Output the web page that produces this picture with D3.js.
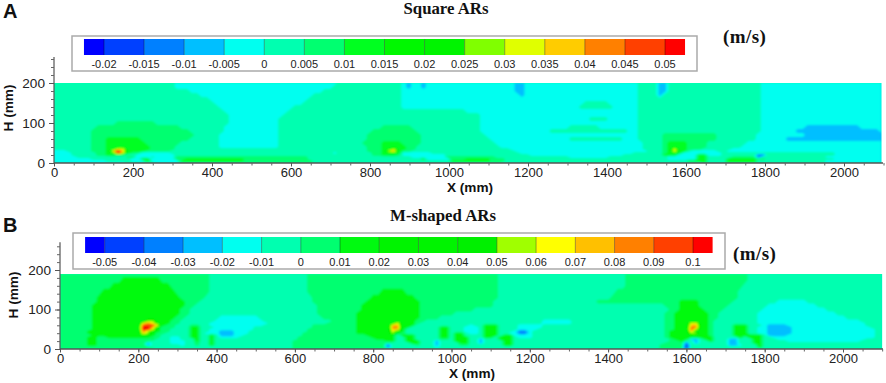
<!DOCTYPE html>
<html>
<head>
<meta charset="utf-8">
<script src="https://cdnjs.cloudflare.com/ajax/libs/d3/7.8.5/d3.min.js"></script>
<style>
    html, body { margin: 0; padding: 0; background: #fff; }
    text { font-family: "Liberation Sans", Arial, sans-serif; fill: #222; }
    .serif { font-family: "Liberation Serif", "Times New Roman", serif; font-weight: bold; fill: #111; }
    .axis-title { font-weight: bold; font-size: 13.6px; fill: #111; }
    .panel-tag { font-weight: bold; font-size: 20px; fill: #111; }
</style>
</head>
<body>
<div id="chart"></div>
<script>
// tick labels
const xTicks = [0, 200, 400, 600, 800, 1000, 1200, 1400, 1600, 1800, 2000];
const xMinor = d3.range(0, 2101, 50);
const hTicks = [0, 100, 200];
const hMinor = d3.range(0, 261, 20);
const legendTicksA = [-0.02, -0.015, -0.01, -0.005, 0, 0.005, 0.01, 0.015, 0.02, 0.025, 0.03, 0.035, 0.04, 0.045, 0.05];
const legendTicksB = [-0.05, -0.04, -0.03, -0.02, -0.01, 0, 0.01, 0.02, 0.03, 0.04, 0.05, 0.06, 0.07, 0.08, 0.09, 0.1];

// band colours, lowest band first
const bandColorsA = ["#0000ff", "#0040ff", "#0080ff", "#00bfff", "#00fff0", "#00ffb0", "#00ff70", "#00ff20", "#00f800", "#00f400", "#80ff00", "#e0ff00", "#ffcc00", "#ff8000", "#ff4000", "#ff0000"];
const bandColorsB = ["#0000ff", "#0040ff", "#0080ff", "#00bfff", "#00fff0", "#00ffb0", "#00ff70", "#00fa10", "#00f400", "#00f400", "#00f000", "#a0ff00", "#ffff00", "#ffc000", "#ff8000", "#ff4000", "#ff0000"];

// field A: band number, then x (mm) where that band stops, read row by row
const heightsA = [200, 190, 180, 170, 160, 150, 140, 130, 120, 110, 100, 90, 80, 70, 60, 50, 40, 35, 30, 25, 20, 15, 10, 5, 0];
const runsA = [
    [5,300, 4,720, 5,885, 4,895, 3,912, 4,925, 3,938, 4,1170, 3,1195, 4,1480, 5,1528, 3,1552, 5,1795, 4,2100],
    [5,300, 4,700, 5,885, 4,895, 3,912, 4,925, 3,938, 4,1170, 3,1195, 4,1480, 5,1528, 3,1552, 5,1795, 4,2100],
    [5,340, 4,680, 5,885, 4,1172, 3,1192, 4,1480, 5,1532, 3,1550, 5,1795, 4,2100],
    [5,370, 4,660, 5,885, 4,1175, 3,1190, 4,1480, 5,1535, 3,1548, 5,1795, 4,2100],
    [5,390, 4,640, 5,885, 4,1480, 5,1795, 4,2100],
    [5,400, 4,625, 5,885, 4,1340, 5,1400, 4,1480, 5,1795, 4,2100],
    [5,415, 4,610, 5,885, 4,1330, 5,1420, 4,1480, 5,1795, 4,2100],
    [5,430, 4,590, 5,1040, 4,1480, 5,1795, 4,2100],
    [5,440, 4,575, 5,1075, 4,1480, 5,1795, 4,2100],
    [5,445, 4,570, 5,1080, 4,1350, 5,1410, 4,1480, 5,1790, 4,2100],
    [5,150, 6,260, 5,440, 4,570, 5,1085, 4,1480, 5,1790, 4,2100],
    [5,110, 6,320, 5,430, 4,570, 5,830, 6,900, 5,1085, 4,1300, 5,1380, 4,1480, 5,1790, 4,1900, 3,2040, 4,2100],
    [5,95, 6,345, 5,425, 4,567, 5,808, 6,918, 5,1085, 4,1260, 5,1450, 4,1480, 5,1790, 4,1880, 3,2090, 4,2100],
    [5,90, 6,355, 5,420, 4,567, 5,795, 6,935, 5,1090, 4,1480, 5,1545, 6,1680, 5,1785, 4,1910, 3,2095],
    [5,90, 6,130, 7,220, 6,345, 5,420, 4,567, 5,790, 6,925, 5,1100, 4,1300, 5,1440, 4,1480, 5,1545, 6,1685, 5,1775, 4,1860, 3,2090],
    [5,90, 6,130, 7,235, 6,320, 5,415, 4,567, 5,785, 6,835, 7,885, 6,925, 5,1115, 4,1490, 5,1545, 6,1560, 7,1600, 6,1660, 5,1760, 4,2100],
    [5,95, 6,125, 7,240, 6,310, 5,420, 4,567, 5,790, 6,825, 7,890, 6,920, 5,1130, 4,1490, 5,1545, 6,1555, 7,1610, 6,1650, 5,1740, 4,2100],
    [5,95, 6,125, 7,150, 11,178, 7,240, 6,300, 5,795, 6,825, 7,850, 10,872, 7,890, 6,915, 5,1150, 4,1490, 5,1545, 6,1552, 7,1565, 11,1585, 7,1610, 6,1640, 5,1720, 4,2100],
    [4,30, 5,95, 6,125, 7,148, 12,155, 15,172, 12,182, 7,225, 6,290, 5,795, 6,825, 7,848, 11,856, 13,866, 11,874, 7,885, 6,910, 5,1170, 4,1500, 5,1540, 6,1552, 7,1568, 12,1583, 7,1600, 5,1620, 4,1680, 5,1700, 4,2100],
    [4,40, 5,100, 6,130, 7,150, 12,158, 15,170, 11,178, 7,195, 6,215, 4,290, 5,700, 4,720, 5,800, 6,830, 7,850, 11,862, 7,875, 6,885, 4,960, 5,1185, 4,1470, 5,1545, 6,1552, 7,1590, 4,1690, 5,1975, 4,2100],
    [4,45, 5,100, 6,130, 7,155, 6,185, 5,205, 4,300, 5,800, 6,835, 7,865, 6,880, 4,990, 5,1205, 4,1440, 5,1545, 7,1585, 4,1635, 7,1655, 4,1690, 5,1780, 2,1800, 5,1975, 4,2100],
    [4,60, 5,180, 6,200, 4,240, 5,260, 4,310, 6,640, 5,900, 4,990, 6,1120, 5,1300, 4,1400, 5,1560, 4,1635, 7,1660, 5,1720, 6,1780, 2,1795, 5,1960, 4,2100],
    [4,90, 5,190, 4,222, 7,245, 4,310, 6,325, 7,480, 6,640, 5,925, 7,945, 4,1000, 6,1040, 7,1105, 6,1140, 5,1560, 4,1635, 7,1660, 5,1712, 7,1780, 6,1800, 5,1980, 4,2100],
    [4,130, 5,190, 4,225, 7,245, 4,320, 7,480, 6,650, 5,1000, 7,1105, 6,1140, 5,1600, 7,1660, 5,1712, 7,1780, 5,1960, 4,2100],
    [4,180, 5,250, 4,320, 6,650, 5,1000, 6,1130, 5,1640, 7,1660, 5,1712, 7,1780, 5,1950, 4,2100]
];

// field B: same layout
const heightsB = [190, 175, 160, 145, 130, 120, 110, 100, 90, 80, 70, 65, 60, 55, 50, 45, 40, 35, 30, 25, 20, 15, 10, 5, 0];
const runsB = [
    [6,385, 5,625, 6,1115, 5,1447, 6,1758, 5,2100],
    [6,160, 7,250, 6,385, 5,630, 6,1115, 5,1445, 6,1750, 5,2100],
    [6,125, 7,275, 6,385, 5,632, 6,1115, 5,1440, 6,1745, 5,2100],
    [6,105, 7,295, 6,380, 5,635, 6,820, 7,880, 6,1115, 5,1420, 6,1735, 5,2100],
    [6,95, 7,310, 6,370, 5,640, 6,790, 7,900, 6,1115, 5,1400, 6,1725, 5,2100],
    [6,90, 7,315, 6,360, 5,645, 6,780, 7,915, 6,1110, 5,1370, 6,1583, 7,1626, 6,1715, 5,1830, 4,1900, 5,2100],
    [6,85, 7,315, 6,345, 5,650, 6,770, 7,920, 6,1100, 5,1540, 6,1575, 7,1635, 6,1700, 5,1800, 4,1925, 5,2100],
    [6,85, 7,310, 6,335, 5,655, 6,765, 7,920, 6,1055, 5,1560, 6,1575, 7,1640, 6,1690, 5,1795, 4,1950, 5,2100],
    [6,80, 7,300, 6,325, 5,660, 6,762, 7,920, 6,1000, 5,1545, 6,1572, 7,1650, 6,1680, 5,1785, 4,1980, 5,2100],
    [6,80, 7,295, 6,320, 5,405, 4,510, 5,665, 6,760, 7,915, 6,970, 5,1545, 6,1570, 7,1655, 6,1675, 5,1780, 4,2010, 5,2100],
    [6,80, 7,218, 11,248, 7,285, 6,310, 5,390, 4,520, 5,690, 6,755, 7,910, 6,935, 5,1225, 4,1300, 5,1540, 6,1568, 7,1658, 6,1673, 5,1777, 4,2040, 5,2100],
    [6,80, 7,208, 12,218, 14,235, 12,248, 7,280, 6,305, 5,380, 4,525, 5,680, 6,755, 7,852, 12,868, 7,908, 6,920, 5,1225, 4,1305, 5,1540, 6,1566, 7,1610, 12,1628, 7,1658, 6,1672, 5,1775, 4,2050, 5,2100],
    [6,80, 7,205, 12,212, 15,238, 12,250, 7,268, 6,295, 5,335, 6,360, 5,380, 4,520, 5,640, 6,755, 7,848, 13,870, 7,900, 6,910, 5,1040, 4,1060, 5,1080, 7,1118, 5,1170, 4,1225, 5,1540, 6,1565, 7,1608, 13,1632, 7,1660, 6,1672, 5,1720, 7,1752, 5,1790, 4,1810, 3,1860, 4,2060, 5,2100],
    [6,78, 7,203, 12,210, 16,235, 13,244, 7,262, 6,290, 5,335, 7,360, 5,395, 4,495, 5,640, 6,755, 7,845, 14,872, 7,890, 6,895, 5,965, 7,998, 5,1036, 4,1068, 5,1080, 7,1122, 5,1170, 4,1230, 5,1540, 6,1565, 7,1605, 14,1632, 7,1655, 6,1670, 5,1720, 7,1752, 5,1787, 4,1805, 3,1865, 4,2070, 5,2100],
    [6,75, 7,203, 12,208, 16,230, 12,240, 7,258, 6,285, 5,335, 7,360, 5,378, 4,490, 5,630, 6,760, 7,841, 13,868, 7,880, 6,885, 5,965, 7,998, 5,1036, 4,1068, 5,1080, 7,1122, 5,1165, 4,1215, 5,1540, 6,1565, 7,1603, 15,1624, 11,1636, 7,1650, 6,1668, 5,1720, 7,1752, 5,1785, 4,1805, 3,1865, 4,2080, 5,2100],
    [6,72, 7,204, 11,207, 14,224, 11,232, 7,250, 6,275, 5,335, 7,360, 5,376, 4,408, 3,442, 4,480, 5,625, 6,758, 7,843, 12,862, 7,875, 6,882, 5,965, 7,998, 5,1036, 4,1068, 5,1080, 7,1122, 5,1150, 4,1170, 2,1195, 4,1210, 5,1540, 6,1562, 7,1600, 13,1617, 7,1650, 6,1665, 5,1720, 7,1752, 5,1785, 4,1805, 3,1865, 4,2085, 5,2100],
    [6,72, 7,204, 11,207, 13,220, 11,228, 7,245, 6,268, 5,335, 7,360, 5,374, 4,408, 3,442, 4,475, 5,620, 6,757, 7,846, 11,860, 7,870, 6,880, 5,965, 7,998, 5,1002, 7,1032, 5,1040, 4,1068, 5,1080, 7,1122, 5,1140, 4,1170, 2,1195, 4,1205, 5,1540, 6,1560, 7,1610, 11,1628, 7,1650, 6,1665, 5,1720, 7,1752, 5,1785, 4,1805, 3,1865, 4,2085, 5,2100],
    [6,75, 7,205, 11,212, 7,240, 6,260, 5,335, 7,360, 5,376, 7,398, 5,400, 4,408, 3,440, 4,465, 5,615, 6,775, 7,855, 5,872, 7,902, 5,965, 7,998, 5,1002, 7,1034, 5,1085, 7,1120, 5,1125, 7,1152, 5,1160, 4,1205, 5,1540, 6,1555, 7,1662, 6,1668, 5,1722, 7,1750, 5,1762, 7,1792, 5,1800, 4,1810, 3,1860, 4,2085, 5,2100],
    [6,70, 7,95, 6,115, 7,235, 6,255, 5,285, 4,310, 5,336, 7,360, 5,376, 7,398, 5,410, 4,460, 5,610, 6,790, 7,850, 5,876, 7,908, 5,965, 7,998, 5,1005, 7,1038, 5,1085, 7,1100, 5,1122, 7,1155, 5,1170, 4,1200, 5,1545, 6,1560, 7,1665, 5,1735, 7,1745, 5,1762, 7,1796, 5,1820, 4,2080, 5,2100],
    [6,70, 7,95, 6,225, 7,240, 5,285, 4,310, 5,338, 7,358, 5,376, 7,398, 5,600, 6,810, 7,850, 5,880, 7,912, 5,968, 6,990, 5,1006, 7,1042, 5,1070, 3,1085, 5,1122, 7,1155, 5,1550, 6,1570, 7,1600, 5,1612, 3,1630, 5,1648, 7,1674, 5,1710, 3,1728, 5,1764, 7,1798, 5,1830, 4,2060, 5,2100],
    [6,70, 7,95, 6,225, 5,285, 4,320, 5,340, 7,356, 5,378, 7,396, 5,598, 6,825, 7,850, 5,885, 7,917, 5,950, 3,965, 5,1010, 7,1045, 5,1070, 3,1085, 5,1128, 7,1156, 5,1555, 6,1578, 7,1590, 5,1615, 3,1630, 5,1650, 7,1672, 5,1710, 3,1728, 5,1766, 7,1798, 5,1850, 4,2040, 5,2100],
    [6,70, 7,95, 6,200, 1,212, 6,222, 3,232, 5,285, 4,320, 5,342, 6,356, 5,380, 7,396, 5,596, 6,830, 5,892, 7,920, 5,950, 3,965, 5,1015, 7,1048, 5,1072, 3,1085, 5,1132, 7,1156, 5,1540, 6,1590, 2,1602, 5,1615, 3,1630, 5,1710, 3,1728, 5,1740, 4,1748, 5,1770, 7,1798, 5,2100],
    [6,72, 7,92, 6,200, 0,212, 6,222, 3,232, 5,300, 4,320, 5,343, 6,355, 5,380, 7,395, 5,596, 6,830, 2,845, 5,900, 6,920, 5,950, 3,965, 5,1020, 6,1045, 5,1075, 3,1085, 5,1135, 7,1152, 5,1535, 6,1590, 1,1602, 5,1710, 3,1728, 5,1735, 4,1748, 5,1775, 7,1798, 5,2100],
    [6,200, 0,212, 6,225, 5,596, 6,835, 2,848, 5,950, 4,965, 5,1535, 6,1590, 0,1602, 6,1610, 5,1780, 7,1795, 5,2100],
    [6,200, 1,212, 6,240, 5,596, 6,838, 3,848, 5,1535, 6,1590, 1,1602, 6,1620, 5,2100]
];

const width = 886, height = 383;
const GRID_STEP = 12.5;

const svg = d3.select("#chart").append("svg")
    .attr("width", width)
    .attr("height", height)
    .style("display", "block");

// the picture is soft, so the field gets a little blur too
svg.append("defs").append("filter")
    .attr("id", "soft")
    .append("feGaussianBlur")
    .attr("stdDeviation", 0.9);

// runs -> flat grid for d3.contours
function expandRuns(runs) {
    const cols = d3.range(0, 2100 + GRID_STEP, GRID_STEP);
    const values = [];
    runs.forEach(row => {
        cols.forEach(x => {
            let i = 0;
            while (i < row.length - 2 && x > row[i + 1]) i += 2;
            values.push(row[i]);
        });
    });
    return { values, n: cols.length, m: runs.length };
}

function drawPanel(p) {
    const x = d3.scaleLinear().domain([0, 2000]).range(p.xRange);
    const y = d3.scaleLinear().domain([0, 200]).range(p.yRange);

    // contour field
    const grid = expandRuns(p.runs);
    const gridX = d3.scaleLinear().domain([0.5, grid.n - 0.5]).range([0, p.xEnd]).clamp(true);
    const gridY = d3.scaleLinear().domain(p.heights.map((h, i) => i + 0.5)).range(p.heights).clamp(true);
    const path = d3.geoPath(d3.geoTransform({
        point(cx, cy) { this.stream.point(x(gridX(cx)), y(gridY(cy))); }
    }));
    const bands = d3.contours()
        .size([grid.n, grid.m])
        .smooth(true)
        .thresholds(d3.range(0.5, p.colors.length - 1))(grid.values);

    const clipId = "clip" + p.tag;
    svg.select("defs").append("clipPath").attr("id", clipId).append("rect")
        .attr("x", x(0))
        .attr("y", y(p.heights[0]))
        .attr("width", x(p.xEnd) - x(0))
        .attr("height", y(0) - y(p.heights[0]));

    const field = svg.append("g").attr("clip-path", `url(#${clipId})`).append("g").attr("filter", "url(#soft)");
    field.append("rect")
        .attr("x", x(0) - 3).attr("y", y(p.heights[0]) - 3)
        .attr("width", x(p.xEnd) - x(0) + 6).attr("height", y(0) - y(p.heights[0]) + 6)
        .attr("fill", p.colors[5]);
    field.selectAll("path")
        .data(bands)
        .enter().append("path")
        .attr("d", path)
        .attr("fill", (d, i) => p.colors[i + 1]);

    // x axis
    const xAxisG = svg.append("g").attr("transform", `translate(0,${y(0)})`);
    xAxisG.call(d3.axisBottom(x).tickValues(xMinor).tickSize(2.5).tickFormat(""));
    xAxisG.call(g => g.selectAll(".tick line").attr("stroke", "#666"));
    xAxisG.select(".domain").attr("d", `M${x(0)},0H${p.xAxisEnd}`).attr("stroke", "#555").attr("stroke-width", 1.4);
    const xLabels = svg.append("g").attr("transform", `translate(0,${y(0)})`);
    xLabels.call(d3.axisBottom(x).tickValues(xTicks).tickSize(3.5).tickPadding(1).tickFormat(d3.format("d")));
    xLabels.select(".domain").remove();
    xLabels.selectAll("line").attr("stroke", "#555");
    xLabels.selectAll("text").attr("font-size", 13).style("font-family", "Liberation Sans").attr("fill", "#222");

    // H axis
    const hAxisG = svg.append("g").attr("transform", `translate(${x(0)},0)`);
    hAxisG.call(d3.axisLeft(y).tickValues(hMinor).tickSize(3).tickFormat(""));
    hAxisG.select(".domain").attr("d", `M0,${y(p.hAxisTop)}V${y(0)}`).attr("stroke", "#555").attr("stroke-width", 1.2);
    hAxisG.selectAll("line").attr("stroke", "#666");
    const hLabels = svg.append("g").attr("transform", `translate(${x(0)},0)`);
    hLabels.call(d3.axisLeft(y).tickValues(hTicks).tickSize(5).tickPadding(4).tickFormat(d3.format("d")));
    hLabels.select(".domain").remove();
    hLabels.selectAll("line").attr("stroke", "#555");
    hLabels.selectAll("text").attr("font-size", 13.6).style("font-family", "Liberation Sans").attr("fill", "#222");

    // axis titles
    svg.append("text").attr("class", "axis-title")
        .attr("text-anchor", "middle")
        .attr("x", p.xTitle[0]).attr("y", p.xTitle[1])
        .text("X (mm)");
    svg.append("text").attr("class", "axis-title")
        .attr("text-anchor", "middle")
        .attr("transform", `translate(${p.hTitle[0]},${p.hTitle[1]}) rotate(-90)`)
        .text("H (mm)");

    // colour legend
    const lg = p.legend;
    svg.append("rect")
        .attr("x", lg.box[0]).attr("y", lg.box[1])
        .attr("width", lg.box[2] - lg.box[0]).attr("height", lg.box[3] - lg.box[1])
        .attr("fill", "#fff").attr("stroke", "#aaa").attr("stroke-width", 1.5);
    const t = p.ticks;
    const step = t[1] - t[0];
    const lx = d3.scaleLinear().domain([t[0], t[t.length - 1]]).range(lg.range);
    const edges = [t[0] - step / 2, ...t, t[t.length - 1] + step / 2];
    svg.append("g").selectAll("rect")
        .data(p.colors)
        .enter().append("rect")
        .attr("x", (d, i) => lx(edges[i]))
        .attr("y", lg.y)
        .attr("width", (d, i) => lx(edges[i + 1]) - lx(edges[i]))
        .attr("height", 16)
        .attr("fill", d => d);
    svg.append("g").selectAll("line")
        .data(t)
        .enter().append("line")
        .attr("x1", d => lx(d)).attr("x2", d => lx(d))
        .attr("y1", lg.y).attr("y2", lg.y + 16)
        .attr("stroke", "#000").attr("stroke-opacity", 0.35);
    svg.append("g").selectAll("text")
        .data(t)
        .enter().append("text")
        .attr("x", d => lx(d))
        .attr("y", lg.y + 29)
        .attr("text-anchor", "middle")
        .attr("font-size", 11)
        .text(d => String(d));

    // titles
    svg.append("text").attr("class", "serif")
        .attr("text-anchor", "middle")
        .attr("x", p.title[0]).attr("y", p.title[1])
        .attr("font-size", 16.8)
        .text(p.titleText);
    svg.append("text").attr("class", "serif")
        .attr("x", p.unit[0]).attr("y", p.unit[1])
        .attr("font-size", 19)
        .attr("letter-spacing", 0.4)
        .text("(m/s)");
    svg.append("text").attr("class", "panel-tag")
        .attr("x", 3).attr("y", p.tagY)
        .text(p.tag);
}

drawPanel({
    tag: "A", tagY: 18,
    titleText: "Square ARs", title: [446, 14], unit: [723, 43],
    xRange: [54, 844], yRange: [163, 83], xEnd: 2095, xAxisEnd: 883, hAxisTop: 265,
    xTitle: [470, 192], hTitle: [13, 108],
    heights: heightsA, runs: runsA, colors: bandColorsA, ticks: legendTicksA,
    legend: { box: [72, 36, 697, 71], y: 39, range: [104, 665] }
});

drawPanel({
    tag: "B", tagY: 232,
    titleText: "M-shaped ARs", title: [443, 221], unit: [733, 260],
    xRange: [60, 843], yRange: [349, 270], xEnd: 2100, xAxisEnd: 883, hAxisTop: 270,
    xTitle: [472, 378], hTitle: [18, 295],
    heights: heightsB, runs: runsB, colors: bandColorsB, ticks: legendTicksB,
    legend: { box: [73, 233, 725, 269], y: 237, range: [104.7, 693] }
});
</script>
</body>
</html>
